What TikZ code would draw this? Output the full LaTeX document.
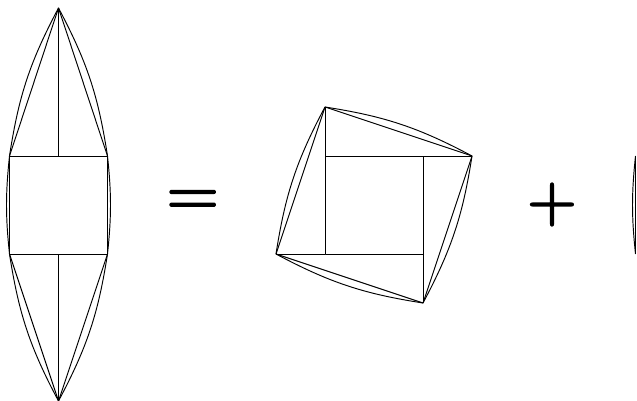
\documentclass[tikz,border=0pt]{standalone}
\usepackage{fontspec}
\newfontfamily\signfont[FakeBold=2.5]{Latin Modern Sans}
\begin{document}
\begin{tikzpicture}[x=1pt,y=-1pt,line width=0.95pt,line join=round,
  longarc/.style={bend right=9.6},
  shortarc/.style={bend right=6},
  signlabel/.style={inner sep=0pt,font=\signfont}]
\useasboundingbox (0,0) rectangle (637,401);
% left figure
\coordinate (at) at (58.5,8);
\coordinate (ab) at (58.5,401);
\coordinate (a1) at (9.5,156);
\coordinate (a2) at (107.5,156);
\coordinate (a3) at (107.5,254);
\coordinate (a4) at (9.5,254);
\coordinate (am) at (58.5,156);
\coordinate (an) at (58.5,254);
\draw (a1)--(a2)--(a3)--(a4)--cycle;
\draw (at)--(am) (an)--(ab);
\draw (a1)--(at)--(a2) (a3)--(ab)--(a4);
\draw (at) to[longarc] (a1) (a1) to[shortarc] (a4) (a4) to[longarc] (ab);
\draw (ab) to[longarc] (a3) (a3) to[shortarc] (a2) (a2) to[longarc] (at);
% middle figure
\coordinate (b1) at (325,156);
\coordinate (b2) at (423,156);
\coordinate (b3) at (423,254);
\coordinate (b4) at (325,254);
\coordinate (c1) at (325,107);
\coordinate (c2) at (472,156);
\coordinate (c3) at (423,303);
\coordinate (c4) at (276,254);
\draw (b1)--(b2)--(b3)--(b4)--cycle;
\draw (b1)--(c1) (b2)--(c2) (b3)--(c3) (b4)--(c4);
\draw (c1)--(c2)--(c3)--(c4)--cycle;
\draw (c1) to[longarc] (c4) (c4) to[longarc] (c3) (c3) to[longarc] (c2) (c2) to[longarc] (c1);
% right figure, cut off by the edge
\coordinate (d1) at (635.5,156);
\coordinate (d2) at (635.5,254);
\draw (d1)--(d2);
\draw (d1) to[shortarc] (d2);
% signs
\node[signlabel] (eq) at (192.7,203.5) {\fontsize{72}{72}\selectfont =};
\node[signlabel] (pl) at (552,204.5) {\fontsize{68}{68}\selectfont +};
\end{tikzpicture}
\end{document}
